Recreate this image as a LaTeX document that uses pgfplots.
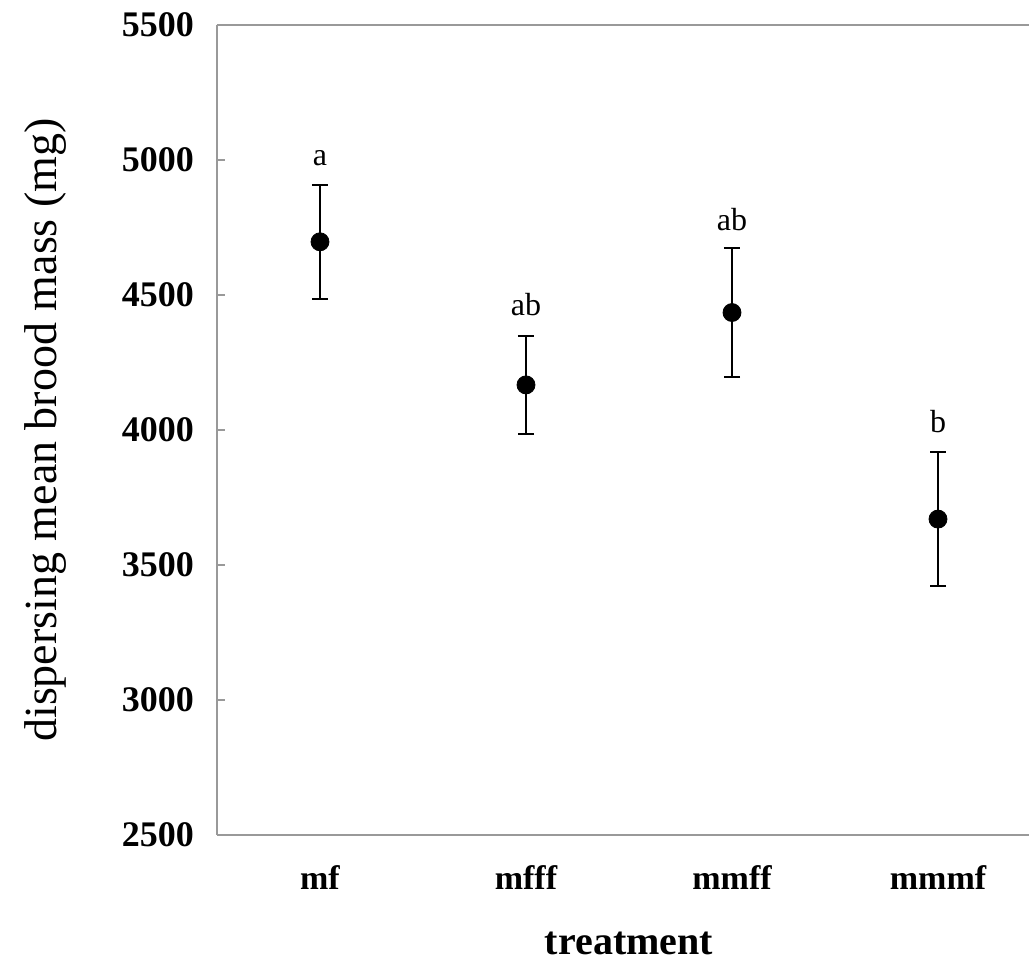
\documentclass[border=0pt]{standalone}
\usepackage{fontspec}
\setmainfont{Liberation Serif}
\usepackage{pgfplots}
\pgfplotsset{compat=1.18}
\begin{document}
\begin{tikzpicture}
\begin{axis}[
  scale only axis,
  width=412pt, height=405pt,
  xmin=-0.5, xmax=3.5,
  ymin=2500, ymax=5500,
  ytick={2500,3000,...,5500},
  xtick={0,1,2,3},
  xticklabels={mf,mfff,mmff,mmmf},
  axis y line*=left,
  axis x line*=box,
  axis line style={gray!80, line width=0.9pt},
  y axis line style={-},
  x axis line style={-},
  major tick length=4pt,
  tick style={gray!80, line width=0.9pt},
  xtick style={draw=none},
  ytick pos=left,
  tick align=inside,
  /pgf/number format/assume math mode=true,
  /pgf/number format/1000 sep={},
  yticklabel style={font=\fontsize{18}{21}\selectfont\bfseries, xshift=-8pt},
  xticklabel style={font=\fontsize{17}{20}\selectfont\bfseries, yshift=-12pt},
  xlabel={treatment},
  ylabel={dispersing mean brood mass (mg)},
  xlabel style={font=\fontsize{20}{24}\selectfont\bfseries, yshift=-14pt},
  ylabel style={font=\fontsize{23}{27}\selectfont, yshift=21pt},
  clip=false,
]
\addplot[
  only marks, mark=*, mark size=4.5pt, black,
  error bars/.cd, y dir=both, y explicit,
  error bar style={line width=1pt, black},
  error mark options={rotate=90, mark size=4pt, line width=1pt, black},
] coordinates {
  (0,4697) +- (0,212)
  (1,4167) +- (0,180)
  (2,4435) +- (0,240)
  (3,3670) +- (0,248)
};
\node[font=\fontsize{16}{19}\selectfont] at (axis cs:0,5005) {a};
\node[font=\fontsize{16}{19}\selectfont] at (axis cs:1,4463) {ab};
\node[font=\fontsize{16}{19}\selectfont] at (axis cs:2,4781) {ab};
\node[font=\fontsize{16}{19}\selectfont] at (axis cs:3,4030) {b};
\end{axis}
\pgfresetboundingbox
\path[use as bounding box] (-108.5pt,-63.5pt) rectangle (406pt,417.5pt);
\end{tikzpicture}
\end{document}
